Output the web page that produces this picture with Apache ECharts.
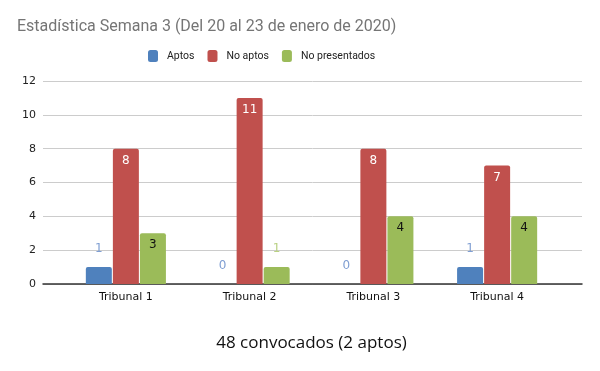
<!DOCTYPE html>
<html><head><meta charset="utf-8">
<script src="https://cdn.jsdelivr.net/npm/echarts@6/dist/echarts.min.js"></script>
<style>html,body{margin:0;padding:0;background:#fff}#c{width:600px;height:371px}</style>
</head><body><div id="c"></div>
<script>
const categories = ['Tribunal 1','Tribunal 2','Tribunal 3','Tribunal 4'];
const seriesNames = ['Aptos','No aptos','No presentados'];
const aptos = [1,0,0,1];
const noAptos = [8,11,8,7];
const noPresentados = [3,1,4,4];
const yTicks = [0,2,4,6,8,10,12];
const titleText = 'Estadística Semana 3 (Del 20 al 23 de enero de 2020)';
const xName = '48 convocados (2 aptos)';

const colors = ['#4f81bd','#c0504d','#9bbb59'];
const font = 'DejaVu Sans';

function lab(val, inColor, outColor){
  return {value: val, label: val >= 2 ?
    {position:'insideTop', distance:6, color: inColor} :
    {position:'top', distance:12, color: outColor}};
}

const chart = echarts.init(document.getElementById('c'));
chart.setOption({
  animation:false,
  title:{text:titleText,left:12,top:14,textStyle:{fontFamily:'Roboto',fontSize:16,fontWeight:'normal',color:'#757575'}},
  legend:{data:seriesNames,top:45,left:143,itemWidth:10,itemHeight:12,itemGap:13,
    textStyle:{fontFamily:'Roboto',fontSize:10.5,color:'#222',padding:[0,0,0,4]},icon:'roundRect'},
  grid:[{left:43,right:18,top:81,bottom:87},{left:64,right:41,top:81,bottom:87}],
  xAxis:[
    {gridIndex:0,type:'category',data:[''],axisLine:{lineStyle:{color:'#333',width:1.5}},axisTick:{show:false},axisLabel:{show:false}},
    {gridIndex:1,type:'category',data:categories,axisLine:{show:false},axisTick:{show:false},
     axisLabel:{fontFamily:font,fontSize:11,color:'#111',margin:8},
     name:xName,nameLocation:'middle',nameGap:51,nameTextStyle:{fontFamily:'Open Sans',fontSize:17,color:'#111'}}
  ],
  yAxis:[
    {gridIndex:0,type:'value',min:yTicks[0],max:yTicks[yTicks.length-1],interval:2,
     axisLabel:{fontFamily:font,fontSize:11,color:'#222',margin:7},
     splitLine:{lineStyle:{color:'#cccccc'}},axisLine:{show:false},axisTick:{show:false}},
    {gridIndex:1,type:'value',min:0,max:12,show:false}
  ],
  series:[
    {name:seriesNames[0],type:'bar',xAxisIndex:1,yAxisIndex:1,barWidth:26,barGap:'4%',z:1,
     itemStyle:{color:colors[0],borderRadius:[2,2,0,0]},
     label:{show:true,fontFamily:font,fontSize:12},
     data:aptos.map(v=>lab(v,'#fff','#7f9ed2'))},
    {name:seriesNames[1],type:'bar',xAxisIndex:1,yAxisIndex:1,barWidth:26,barGap:'4%',z:1,
     itemStyle:{color:colors[1],borderRadius:[2,2,0,0]},
     label:{show:true,fontFamily:font,fontSize:12},
     data:noAptos.map(v=>lab(v,'#fff','#d08a88'))},
    {name:seriesNames[2],type:'bar',xAxisIndex:1,yAxisIndex:1,barWidth:26,barGap:'4%',z:1,
     itemStyle:{color:colors[2],borderRadius:[2,2,0,0]},
     label:{show:true,fontFamily:font,fontSize:12},
     data:noPresentados.map(v=>lab(v,'#111','#b9d183'))}
  ]
});
</script></body></html>
